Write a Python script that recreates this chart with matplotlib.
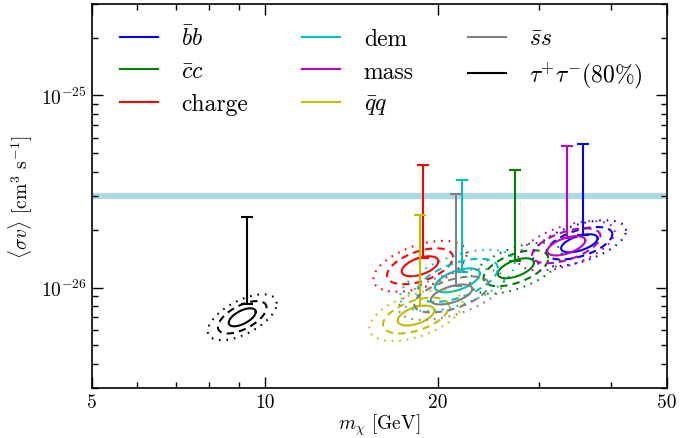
import numpy as np
import matplotlib
matplotlib.use("Agg")
import matplotlib.pyplot as plt
from matplotlib.ticker import NullFormatter

plt.rcParams['font.family'] = 'serif'
plt.rcParams['font.serif'] = ['cmr10']
plt.rcParams['mathtext.fontset'] = 'cm'
plt.rcParams['axes.formatter.use_mathtext'] = True

# channels (legend order)
labels = [r'$\bar{b}b$', r'$\bar{c}c$', 'charge', 'dem', 'mass', r'$\bar{q}q$', r'$\bar{s}s$', r'$\tau^{+}\tau^{-}(80\%)$']
colors = ['b', 'g', 'r', 'c', 'm', 'y', 'gray', 'k']

# best fit point (GeV, cm^3/s)
mass_fit = [35.2, 27.3, 18.6, 21.6, 33.4, 18.3, 21.1, 9.13]
sv_fit = [1.70e-26, 1.26e-26, 1.29e-26, 1.09e-26, 1.65e-26, 0.715e-26, 0.92e-26, 0.70e-26]

# 1 sigma half widths in log10 units, and correlation
sig_logm = [0.0318, 0.0313, 0.0318, 0.0391, 0.033, 0.0318, 0.036, 0.0235]
sig_logsv = [0.047, 0.052, 0.052, 0.0625, 0.0505, 0.052, 0.052, 0.0469]
rho = [0.55, 0.55, 0.5, 0.55, 0.55, 0.5, 0.55, 0.6]

# upper limit bars
ul_mass = [35.7, 27.2, 18.8, 22.0, 33.5, 18.6, 21.5, 9.30]
ul_low = [1.87e-26, 1.37e-26, 1.43e-26, 1.20e-26, 1.82e-26, 0.80e-26, 1.02e-26, 0.816e-26]
ul_high = [5.62e-26, 4.08e-26, 4.32e-26, 3.65e-26, 5.44e-26, 2.38e-26, 3.08e-26, 2.34e-26]

contour_scale = [1.0, 1.8, 2.55]
contour_style = ['-', (0, (3.5, 2.5)), (0, (0.8, 2.8))]

thermal_sv = 3e-26

fig = plt.figure(figsize=(6.8, 4.39), dpi=100)
ax = fig.add_axes([0.135, 0.114, 0.846, 0.875])

ax.axhline(thermal_sv, color='lightblue', lw=4.5, zorder=0)

t = np.linspace(0, 2 * np.pi, 300)
for i in range(len(labels)):
    cx = np.log10(mass_fit[i])
    cy = np.log10(sv_fit[i])
    for k, ls in zip(contour_scale, contour_style):
        lx = cx + k * sig_logm[i] * np.cos(t)
        ly = cy + k * sig_logsv[i] * (rho[i] * np.cos(t) + np.sqrt(1 - rho[i] ** 2) * np.sin(t))
        ax.plot(10 ** lx, 10 ** ly, color=colors[i], ls=ls, lw=1.5,
                label=labels[i] if ls == '-' else None)
    ax.errorbar([ul_mass[i]], [ul_low[i]], yerr=[[0], [ul_high[i] - ul_low[i]]],
                fmt='none', ecolor=colors[i], elinewidth=1.5, capsize=4, capthick=1.5)

ax.set_xscale('log')
ax.set_yscale('log')
ax.set_xlim(5, 50)
ax.set_ylim(3e-27, 3e-25)
ax.set_xticks([5, 10, 20, 50])
ax.set_xticklabels(['5', '10', '20', '50'])
ax.xaxis.set_minor_formatter(NullFormatter())
ax.yaxis.set_minor_formatter(NullFormatter())
ax.tick_params(which='both', direction='in', top=True, right=True, labelsize=14, width=1)
ax.tick_params(which='major', length=8)
ax.tick_params(which='minor', length=4)
ax.tick_params(axis='x', which='major', pad=4)
for s in ax.spines.values():
    s.set_linewidth(1.2)

ax.set_xlabel(r'$m_\chi$ [GeV]', fontsize=14, labelpad=0)
ax.set_ylabel(r'$\langle\sigma v\rangle$ [cm$^3$ s$^{-1}$]', fontsize=14)

ax.legend(loc='upper left', bbox_to_anchor=(0.012, 1.0), ncol=3, frameon=False, fontsize=17,
          handlelength=1.6, handletextpad=1.0, columnspacing=2.3, labelspacing=0.45)

fig.savefig('out.png', dpi=100)
